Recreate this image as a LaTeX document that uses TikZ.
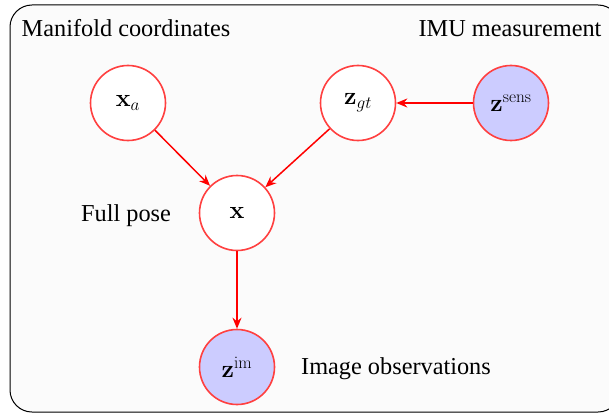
\documentclass[tikz,border=0pt]{standalone}
\usepackage[no-math]{fontspec}
\setmainfont{Liberation Serif}
\usetikzlibrary{arrows.meta}
\begin{document}
\begin{tikzpicture}[x=1pt,y=-1pt,
  every node/.style={font=\fontsize{24.3}{28}\selectfont},
  var/.style={circle, draw=red!75, line width=1.6pt, minimum size=75pt, inner sep=0pt, fill=white},
  obs/.style={var, fill=blue!20},
  link/.style={draw=red, line width=1.5pt, -{Stealth[length=11pt,width=9pt]}},
  caption/.style={inner sep=0pt, anchor=base}]
  \useasboundingbox (0,0) rectangle (609,414);
  % frame
  \draw[line width=1pt, fill=black!1.5, rounded corners=22pt] (10,5) rectangle (620,412);
  % nodes
  \node[var] (xa) at (128,103) {$\mathbf{x}_a$};
  \node[var] (zgt) at (358,103) {$\mathbf{z}_{gt}$};
  \node[obs] (zsens) at (511,103) {$\mathbf{z}^{\mathrm{sens}}$};
  \node[var] (x) at (237,213) {$\mathbf{x}$};
  \node[obs] (zim) at (237,367) {$\mathbf{z}^{\mathrm{im}}$};
  % labels
  \node[caption] (lman) at (126,37) {Manifold coordinates};
  \node[caption] (limu) at (510,37) {IMU measurement};
  \node[caption] (lfull) at (126,221) {Full pose};
  \node[caption] (limg) at (396,374) {Image observations};
  % edges
  \draw[link] (xa) -- (x);
  \draw[link] (zgt) -- (x);
  \draw[link] (zsens) -- (zgt);
  \draw[link] (x) -- (zim);
\end{tikzpicture}
\end{document}
